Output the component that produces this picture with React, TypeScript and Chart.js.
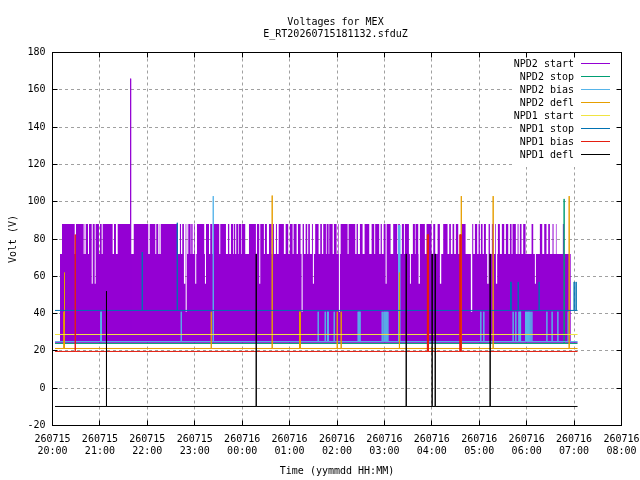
import { useEffect, useRef } from "react"
import { Chart, registerables } from "chart.js"

Chart.register(...registerables)

// all times are minutes after 260715 20:00
const xTickDates = ["260715", "260715", "260715", "260715", "260716", "260716", "260716", "260716", "260716", "260716", "260716", "260716", "260716"]
const xTickTimes = ["20:00", "21:00", "22:00", "23:00", "00:00", "01:00", "02:00", "03:00", "04:00", "05:00", "06:00", "07:00", "08:00"]
const chartTitle = ["Voltages for MEX", "E_RT20260715181132.sfduZ"]

const seriesNames = ["NPD2 start", "NPD2 stop", "NPD2 bias", "NPD2 defl", "NPD1 start", "NPD1 stop", "NPD1 bias", "NPD1 defl"]
const seriesColors = ["#9400d3", "#009e73", "#56b4e9", "#e69f00", "#f0e442", "#0072b2", "#e51e10", "#000000"]
const seriesBase = [24.6, 24.0, 25.0, 21.3, 28.8, 41.7, 19.7, -9.8]

const lineStart = 3.2
const lineEnd = 664.4

// short excursions away from the resting level of each channel
const npd2StartSpikeT = [98.9]
const npd2StartSpikeV = [166]
const npd2StopSpikeT = [647.4]
const npd2StopSpikeV = [101.5]
const npd2BiasSpikeT = [61.0, 62.0, 162.9, 203.4, 336.2, 345.1, 347.9, 349.0, 356.5, 386.8, 388.0, 389.2, 417.2, 419.4, 420.6, 421.9, 423.1, 424.4, 437.9, 438.7, 439.5, 542.0, 545.8, 582.9, 586.3, 590.2, 591.3, 592.3, 598.6, 599.8, 601.0, 602.2, 603.2, 604.4, 606.6, 625.6, 632.2, 639.5, 652.5]
const npd2BiasSpikeV = [41, 41, 41, 103, 41, 41, 41, 41, 41, 41, 41, 41, 41, 41, 41, 41, 41, 41, 87.5, 87.5, 87.5, 41, 41, 41, 41, 41, 41, 41, 41, 41, 41, 41, 41, 41, 41, 41, 41, 41, 41]
const npd2DeflSpikeT = [14.4, 15.2, 200.9, 278.0, 312.6, 313.6, 360.3, 365.3, 439.0, 517.3, 557.6, 653.8]
const npd2DeflSpikeV = [41, 62, 41, 103.3, 41, 41, 41, 41, 62, 103, 103, 103]
const npd1StartSpikeT: number[] = []
const npd1StartSpikeV: number[] = []
const npd1StopSpikeT = [113.6, 157.9, 579.6, 580.4, 589.3, 615.8, 660.1, 662.6]
const npd1StopSpikeV = [73, 88.7, 57, 57, 57, 57, 57, 57]
const npd1BiasSpikeT = [28.8, 474.4, 475.1, 475.8, 515.6, 516.3, 517.0]
const npd1BiasSpikeV = [82.4, 82.4, 82.4, 82.4, 82.4, 82.4, 82.4]
const npd1DeflSpikeT = [68.3, 257.8, 447.6, 480.4, 484.3, 553.8]
const npd1DeflSpikeV = [52, 72, 72, 72, 72, 72]

const spikeTimes = [npd2StartSpikeT, npd2StopSpikeT, npd2BiasSpikeT, npd2DeflSpikeT, npd1StartSpikeT, npd1StopSpikeT, npd1BiasSpikeT, npd1DeflSpikeT]
const spikeValues = [npd2StartSpikeV, npd2StopSpikeV, npd2BiasSpikeV, npd2DeflSpikeV, npd1StartSpikeV, npd1StopSpikeV, npd1BiasSpikeV, npd1DeflSpikeV]

// NPD2 start toggles so fast it paints a solid band; its upper edge sits at 88
// except in these [from, to, level] stretches
const npd2StartFrom = 9.5
const npd2StartTo = 655.9
const npd2StartTop = 88
const npd2StartGaps: [number, number, number][] = [
  [9.5, 12.0, 72], [28.1, 29.7, 72], [39.4, 40.7, 72], [41.5, 42.4, 72], [44.9, 46.2, 72], [49.6, 50.9, 56],
  [53.4, 54.6, 56], [58.8, 60.1, 72], [62.2, 63.5, 72], [76.1, 77.8, 72], [80.3, 82.5, 72], [99.3, 102.8, 72],
  [121.2, 123.0, 72], [130.1, 131.3, 72], [133.8, 135.6, 72], [136.4, 137.3, 72], [158.6, 161.2, 72], [162.6, 164.2, 72],
  [166.3, 168.0, 56], [168.5, 169.8, 41], [170.5, 171.8, 72], [174.8, 175.6, 72], [177.3, 179.0, 72], [179.9, 180.6, 72],
  [180.6, 181.9, 56], [181.9, 182.8, 72], [192.0, 192.9, 72], [192.9, 194.2, 56], [198.0, 199.6, 72], [202.2, 203.0, 72],
  [211.0, 212.3, 72], [219.5, 222.0, 72], [223.7, 225.8, 72], [228.7, 229.6, 72], [231.2, 232.5, 72], [234.7, 235.5, 72],
  [238.9, 239.7, 72], [243.9, 248.6, 72], [257.4, 258.7, 72], [261.6, 262.9, 56], [267.5, 268.8, 72], [271.3, 273.9, 72],
  [277.3, 278.9, 72], [280.2, 282.7, 72], [284.0, 286.2, 72], [292.8, 295.0, 72], [298.3, 300.4, 72], [303.8, 305.1, 72],
  [308.9, 310.6, 72], [313.9, 315.2, 72], [315.2, 316.5, 41], [318.2, 320.3, 72], [322.3, 323.6, 72], [325.7, 328.3, 72],
  [329.5, 330.8, 56], [330.8, 332.4, 72], [336.7, 338.8, 72], [340.9, 342.6, 72], [346.0, 346.9, 72], [349.4, 350.2, 72],
  [354.5, 356.1, 72], [359.5, 361.2, 72], [362.0, 362.4, 72], [362.4, 363.7, 41], [363.7, 364.6, 72], [373.4, 374.7, 72],
  [383.1, 384.8, 72], [386.5, 389.0, 72], [392.4, 394.9, 72], [400.8, 403.8, 72], [407.1, 408.3, 72], [413.4, 415.2, 72],
  [416.8, 419.0, 72], [421.5, 422.8, 56], [427.8, 431.1, 72], [436.2, 437.4, 72], [439.6, 442.1, 72], [444.7, 445.9, 72],
  [451.0, 452.3, 72], [452.3, 453.5, 56], [453.5, 456.0, 72], [458.6, 459.4, 72], [462.8, 463.2, 72], [463.2, 464.9, 56],
  [471.2, 473.3, 72], [479.7, 481.8, 72], [484.3, 487.3, 72], [490.2, 491.9, 56], [491.9, 494.4, 72], [499.9, 502.0, 72],
  [504.1, 506.2, 72], [508.3, 510.4, 72], [513.4, 516.8, 72], [522.7, 529.4, 72], [529.4, 531.1, 41], [532.4, 534.5, 72],
  [537.4, 539.1, 72], [540.8, 542.1, 72], [544.2, 545.9, 72], [548.4, 550.1, 72], [550.1, 551.8, 56], [553.5, 556.0, 72],
  [558.5, 560.2, 72], [561.1, 562.7, 56], [562.7, 563.6, 72], [566.1, 568.6, 72], [571.6, 573.7, 72], [576.7, 578.8, 72],
  [580.9, 582.1, 72], [586.3, 588.5, 72], [589.7, 591.4, 72], [593.5, 595.6, 72], [598.6, 606.2, 72], [608.3, 610.4, 72],
  [610.4, 611.7, 56], [611.7, 616.7, 72], [619.7, 622.2, 72], [625.1, 627.3, 72], [629.4, 632.7, 72], [634.0, 637.0, 72],
  [637.8, 645.8, 72], [647.1, 655.9, 72],
]

const FONT = "DejaVu Sans Mono"

function spikeLine(base: number, times: number[], tops: number[]) {
  const pts = [{ x: lineStart, y: base }]
  times.forEach((t, i) => {
    pts.push({ x: t, y: base }, { x: t, y: tops[i] }, { x: t, y: base })
  })
  pts.push({ x: lineEnd, y: base })
  return pts
}

function bandEdge() {
  const pts = [{ x: npd2StartFrom, y: npd2StartTop }]
  npd2StartGaps.forEach(([a, b, v]) => {
    pts.push({ x: a, y: v }, { x: b, y: npd2StartTop })
  })
  pts.push({ x: npd2StartTo, y: seriesBase[0] })
  return pts
}

const crisp = (v: number) => Math.round(v - 0.5) + 0.5

const gnuplotFrame = {
  id: "gnuplotFrame",
  afterDraw(chart: Chart) {
    const { ctx, chartArea: a, scales } = chart
    ctx.save()

    // opaque key
    ctx.fillStyle = "#ffffff"
    ctx.fillRect(513, 57, 103, 110)
    ctx.font = `10px "${FONT}"`
    ctx.textAlign = "right"
    ctx.textBaseline = "middle"
    seriesNames.forEach((name, i) => {
      const y = 63.5 + 13 * i
      ctx.fillStyle = "#000000"
      ctx.fillText(name, 574, y + 0.5)
      ctx.strokeStyle = seriesColors[i]
      ctx.lineWidth = 1
      ctx.beginPath()
      ctx.moveTo(581, y)
      ctx.lineTo(610, y)
      ctx.stroke()
    })

    // border and inward ticks on all sides
    ctx.strokeStyle = "#000000"
    ctx.lineWidth = 1
    ctx.strokeRect(a.left, a.top, a.right - a.left, a.bottom - a.top)
    ctx.beginPath()
    scales.x.ticks.forEach((t) => {
      const px = crisp(scales.x.getPixelForValue(t.value))
      ctx.moveTo(px, a.bottom)
      ctx.lineTo(px, a.bottom - 5)
      ctx.moveTo(px, a.top)
      ctx.lineTo(px, a.top + 5)
    })
    scales.y.ticks.forEach((t) => {
      const py = crisp(scales.y.getPixelForValue(t.value))
      ctx.moveTo(a.left, py)
      ctx.lineTo(a.left + 5, py)
      ctx.moveTo(a.right, py)
      ctx.lineTo(a.right - 5, py)
    })
    ctx.stroke()

    ctx.fillStyle = "#000000"
    ctx.textAlign = "center"
    ctx.fillText(chartTitle[0], 335.5, 22.5)
    ctx.fillText(chartTitle[1], 335.5, 34)
    ctx.restore()
  },
}

export default function App() {
  const canvasRef = useRef<HTMLCanvasElement>(null)

  useEffect(() => {
    document.body.style.margin = "0"
    if (!canvasRef.current) return

    const lines = seriesNames.map((name, i) => ({
      type: "line" as const,
      label: name,
      data: spikeLine(seriesBase[i], spikeTimes[i], spikeValues[i]),
      borderColor: seriesColors[i],
      borderWidth: 1,
      pointRadius: 0,
      stepped: true,
      fill: false,
      order: 9 - i,
    }))

    const chart = new Chart(canvasRef.current, {
      type: "line",
      data: {
        datasets: [
          {
            label: "NPD2 start band",
            data: bandEdge(),
            borderColor: "rgba(0,0,0,0)",
            borderWidth: 1,
            backgroundColor: seriesColors[0],
            pointRadius: 0,
            stepped: true,
            fill: { value: seriesBase[0] },
            order: 10,
          },
          ...lines,
        ],
      },
      options: {
        responsive: false,
        animation: false,
        events: [],
        layout: { padding: { top: 52.5, right: 18.5, left: 0, bottom: 0 } },
        plugins: {
          legend: { display: false },
          tooltip: { enabled: false },
        },
        scales: {
          x: {
            type: "linear",
            min: 0,
            max: 720,
            afterFit: (scale) => {
              scale.height = 54.5
              scale.paddingLeft = 0
              scale.paddingRight = 0
            },
            ticks: {
              stepSize: 60,
              autoSkip: false,
              maxRotation: 0,
              padding: 7.5,
              color: "#000000",
              font: { family: FONT, size: 10, lineHeight: 1.25 },
              callback: (_value, index) => [xTickDates[index], xTickTimes[index]],
            },
            grid: { color: "#a0a0a0", drawTicks: false },
            border: { display: false, dash: [3, 3] },
            title: {
              display: true,
              text: "Time (yymmdd HH:MM)",
              color: "#000000",
              font: { family: FONT, size: 10 },
              padding: { top: 0, bottom: 3 },
            },
          },
          y: {
            type: "linear",
            min: -20,
            max: 180,
            afterFit: (scale) => {
              scale.width = 52.5
              scale.paddingTop = 0
              scale.paddingBottom = 0
            },
            ticks: {
              stepSize: 20,
              padding: 7,
              color: "#000000",
              font: { family: FONT, size: 10 },
            },
            grid: { color: "#a0a0a0", drawTicks: false },
            border: { display: false, dash: [3, 3] },
            title: {
              display: true,
              text: "Volt (V)",
              color: "#000000",
              font: { family: FONT, size: 10 },
              padding: { top: 7, bottom: 0 },
            },
          },
        },
      },
      plugins: [gnuplotFrame],
    })

    return () => chart.destroy()
  }, [])

  return (
    <div style={{ width: 640, height: 480 }}>
      <canvas ref={canvasRef} width={640} height={480}></canvas>
    </div>
  )
}
